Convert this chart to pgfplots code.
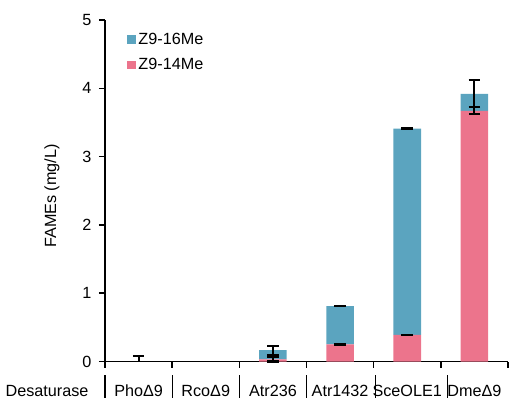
\documentclass[border=0pt]{standalone}
\usepackage{pgfplots}
\pgfplotsset{compat=1.18}
\usepackage{fontspec}
\setmainfont{Liberation Sans}
\definecolor{cblue}{HTML}{5BA4BF}
\definecolor{cpink}{HTML}{EC748C}
\begin{document}
\begin{tikzpicture}[font=\fontsize{16.2bp}{19bp}\selectfont]
\useasboundingbox (-105bp,-40.5bp) rectangle (404bp,361.5bp);
\pgfplotsset{base/.style={scale only axis, width=403bp, height=341.5bp,
  xmin=-0.5, xmax=5.5, ymin=0, ymax=5, clip=false}}
\begin{axis}[base, ybar stacked, bar width=0.41,
  axis lines*=left,
  axis line style={line width=1.6bp, black},
  xtick={-0.5,0.5,...,5.5}, xticklabels={},
  ytick={0,1,...,5},
  tick align=outside,
  major tick length=6bp,
  tick style={line width=1.6bp, black},
  /pgf/number format/assume math mode=true,
  yticklabel style={font=\fontsize{16.2bp}{19bp}\selectfont, xshift=-4bp},
  legend style={draw=none, fill=none, at={(axis description cs:0.055,0.968)}, anchor=north west,
    row sep=8.5bp, inner sep=0pt, font=\fontsize{16.2bp}{19bp}\selectfont,
    nodes={inner xsep=2.5bp}},
  legend cell align=left,
  reverse legend,
  legend image code/.code={\fill[#1] (0bp,-4.3bp) rectangle (8.6bp,4.3bp);},
]
\addplot[fill=cpink, draw=none] coordinates {(0,0) (1,0) (2,0.03) (3,0.25) (4,0.39) (5,3.67)};
\addlegendentry{Z9-14Me}
\addplot[fill=cblue, draw=none] coordinates {(0,0) (1,0) (2,0.135) (3,0.56) (4,3.02) (5,0.25)};
\addlegendentry{Z9-16Me}
% category labels and separators
\foreach \x/\lab in {0/PhoΔ9, 1/RcoΔ9, 2/Atr236, 3/Atr1432, 4/SceOLE1, 5/DmeΔ9} {
  \edef\temp{\noexpand\node[anchor=base] at ([yshift=-35bp]axis cs:\x,0) {\lab};}
  \temp
}
\foreach \x in {-0.5,0.5,1.5,2.5,3.53,4.6} {
  \edef\temp{\noexpand\draw[line width=1.1bp] ([yshift=-13.5bp]axis cs:\x,0) -- ([yshift=-36.5bp]axis cs:\x,0);}
  \temp
}
\node[anchor=base east] at ([xshift=-13bp,yshift=-35bp]axis cs:-0.5,0) {Desaturase};
\end{axis}
\begin{axis}[base, hide axis]
\addplot[draw=none, mark=none, forget plot,
  error bars/.cd, y dir=both, y explicit,
  error bar style={line width=2bp, black},
  error mark options={rotate=90, mark size=5.8bp, line width=2bp, black}]
  coordinates {(2,0.165) +- (0,0.065) (3,0.81) +- (0,0.004) (4,3.41) +- (0,0.004) (5,3.92) +- (0,0.2)
               (2,0.03) +- (0,0.03) (3,0.25) +- (0,0.004) (4,0.39) +- (0,0.004) (5,3.67) +- (0,0.05)};
\addplot[draw=none, mark=none, forget plot,
  error bars/.cd, y dir=plus, y explicit,
  error bar style={line width=2bp, black},
  error mark options={rotate=90, mark size=5.8bp, line width=2bp, black}]
  coordinates {(0,0) +- (0,0.08)};
\end{axis}
\node[rotate=90] at (-53bp,165.5bp) {FAMEs (mg/L)};
\end{tikzpicture}
\end{document}
